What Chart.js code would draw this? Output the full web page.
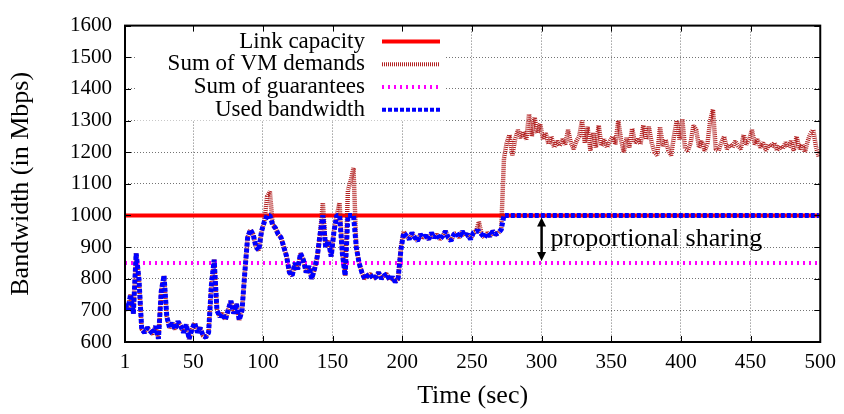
<!DOCTYPE html>
<html>
<head>
<meta charset="utf-8">
<script src="https://cdn.jsdelivr.net/npm/chart.js@4.4.1/dist/chart.umd.min.js"></script>
<style>
  html, body { margin: 0; padding: 0; background: #fff; }
  #wrap { width: 844px; height: 414px; position: relative; }
</style>
</head>
<body>
<div id="wrap"><canvas id="bandwidth_chart"></canvas></div>
<script>
/*
 * Values, one sample every 2 seconds (t = 1, 3, ... 499)
 */

const xTicks = [1, 50, 100, 150, 200, 250, 300, 350, 400, 450, 500]
const seriesNames = ['Link capacity', 'Sum of VM demands', 'Sum of guarantees', 'Used bandwidth']
const edgeTimes = [1, 500]
const linkCapacity = [1000, 1000]
const guarantees = [850, 850]

const vmDemands = [
    720, 700, 750, 690, 880, 800, 640, 630, 645, 635,
    625, 650, 610, 760, 810, 680, 645, 660, 640, 665,
    650, 630, 655, 610, 640, 660, 630, 645, 620, 615,
    630, 780, 860, 700, 680, 690, 670, 700, 730, 690,
    720, 670, 700, 820, 930, 955, 940, 900, 890, 950,
    980, 1060, 1075, 970, 960, 940, 930, 900, 870, 820,
    810, 850, 830, 880, 860, 820, 840, 800, 830, 870,
    940, 1040, 900, 920, 870, 950, 1000, 1040, 880, 810,
    1080, 1110, 1150, 900, 850, 820, 800, 810, 815, 800,
    805, 820, 800, 810, 815, 795, 805, 790, 800, 900,
    950, 935, 925, 945, 930, 920, 940, 930, 935, 925,
    945, 930, 940, 925, 935, 950, 930, 920, 940, 945,
    930, 950, 935, 940, 925, 945, 950, 980, 940, 930,
    945, 935, 950, 940, 945, 955, 1180, 1230, 1255, 1190,
    1240, 1270, 1245, 1265, 1240, 1320, 1250, 1310, 1260, 1290,
    1240, 1260, 1225, 1250, 1215, 1235, 1220, 1240, 1225, 1270,
    1230, 1210, 1235, 1250, 1300, 1230, 1280, 1205, 1260, 1215,
    1285, 1220, 1240, 1215, 1235, 1250, 1225, 1300, 1240, 1200,
    1245, 1215, 1275, 1230, 1240, 1225, 1285, 1240, 1280, 1230,
    1200, 1190, 1280, 1220, 1240, 1205, 1190, 1250, 1300, 1240,
    1305, 1210, 1205, 1230, 1285, 1270, 1215, 1235, 1205, 1225,
    1300, 1335, 1210, 1205, 1230, 1250, 1210, 1225, 1215, 1235,
    1220, 1210, 1255, 1225, 1240, 1270, 1225, 1240, 1215, 1230,
    1205, 1225, 1215, 1230, 1205, 1220, 1210, 1230, 1215, 1235,
    1205, 1250, 1210, 1225, 1200, 1235, 1260, 1270, 1215, 1185
]

const usedBandwidth = [
    720, 700, 750, 690, 880, 800, 640, 630, 645, 635,
    625, 650, 610, 760, 810, 680, 645, 660, 640, 665,
    650, 630, 655, 610, 640, 660, 630, 645, 620, 615,
    630, 780, 860, 700, 680, 690, 670, 700, 730, 690,
    720, 670, 700, 820, 930, 955, 940, 900, 890, 950,
    980, 1000, 1000, 970, 960, 940, 930, 900, 870, 820,
    810, 850, 830, 880, 860, 820, 840, 800, 830, 870,
    940, 1000, 900, 920, 870, 950, 1000, 1000, 880, 810,
    1000, 1000, 1000, 900, 850, 820, 800, 810, 815, 800,
    805, 820, 800, 810, 815, 795, 805, 790, 800, 890,
    945, 935, 925, 945, 930, 920, 940, 930, 935, 925,
    945, 930, 940, 925, 935, 950, 930, 920, 940, 945,
    930, 950, 935, 940, 925, 945, 950, 950, 940, 930,
    945, 935, 950, 940, 945, 955, 1000, 1000, 1000, 1000,
    1000, 1000, 1000, 1000, 1000, 1000, 1000, 1000, 1000, 1000,
    1000, 1000, 1000, 1000, 1000, 1000, 1000, 1000, 1000, 1000,
    1000, 1000, 1000, 1000, 1000, 1000, 1000, 1000, 1000, 1000,
    1000, 1000, 1000, 1000, 1000, 1000, 1000, 1000, 1000, 1000,
    1000, 1000, 1000, 1000, 1000, 1000, 1000, 1000, 1000, 1000,
    1000, 1000, 1000, 1000, 1000, 1000, 1000, 1000, 1000, 1000,
    1000, 1000, 1000, 1000, 1000, 1000, 1000, 1000, 1000, 1000,
    1000, 1000, 1000, 1000, 1000, 1000, 1000, 1000, 1000, 1000,
    1000, 1000, 1000, 1000, 1000, 1000, 1000, 1000, 1000, 1000,
    1000, 1000, 1000, 1000, 1000, 1000, 1000, 1000, 1000, 1000,
    1000, 1000, 1000, 1000, 1000, 1000, 1000, 1000, 1000, 1000
]

// sampling grid of the two measured series
const times = vmDemands.map((v, i) => 1 + 2 * i)

const serif = '"Liberation Serif", "Times New Roman", serif'

function toPoints(xs, ys) {
    return ys.map((v, i) => ({ x: xs[i], y: v }))
}

/*
 * gnuplot look: opaque key, inward ticks, frame and the arrow note
 */

const gnuplotDecor = {
    id: 'gnuplotDecor',
    afterDraw(chart) {
        const ctx = chart.ctx
        const area = chart.chartArea
        const xs = chart.scales.x
        const ys = chart.scales.y
        ctx.save()

        // key box
        ctx.fillStyle = '#fff'
        ctx.fillRect(area.left + 12, area.top + 1, 446 - area.left - 12, 94)
        ctx.font = '23px ' + serif
        ctx.textAlign = 'right'
        ctx.textBaseline = 'middle'
        chart.data.datasets.forEach((ds, i) => {
            const rowY = area.top + 16 + i * 22.7
            ctx.fillStyle = '#000'
            ctx.fillText(ds.label, 365, rowY)
            ctx.save()
            ctx.strokeStyle = ds.borderColor
            ctx.lineWidth = 4
            ctx.setLineDash(ds.borderDash || [])
            ctx.beginPath()
            ctx.moveTo(382, rowY)
            ctx.lineTo(440, rowY)
            ctx.stroke()
            ctx.restore()
        })

        // inward tick marks on all four sides
        ctx.strokeStyle = '#000'
        ctx.lineWidth = 1
        ctx.beginPath()
        xTicks.forEach(v => {
            const px = Math.round(xs.getPixelForValue(v)) + 0.5
            ctx.moveTo(px, area.bottom); ctx.lineTo(px, area.bottom - 6)
            ctx.moveTo(px, area.top); ctx.lineTo(px, area.top + 6)
        })
        ys.ticks.forEach(t => {
            const py = Math.round(ys.getPixelForValue(t.value)) + 0.5
            ctx.moveTo(area.left, py); ctx.lineTo(area.left + 6, py)
            ctx.moveTo(area.right, py); ctx.lineTo(area.right - 6, py)
        })
        ctx.stroke()

        // frame
        ctx.lineWidth = 2
        ctx.strokeRect(area.left, area.top, area.right - area.left, area.bottom - area.top)

        // double arrow between capacity and guarantees
        const ax = xs.getPixelForValue(300)
        const top = ys.getPixelForValue(linkCapacity[0]) + 2
        const bottom = ys.getPixelForValue(guarantees[0]) - 2
        ctx.lineWidth = 2.5
        ctx.beginPath()
        ctx.moveTo(ax, top + 6)
        ctx.lineTo(ax, bottom - 6)
        ctx.stroke()
        ctx.fillStyle = '#000'
        ctx.beginPath()
        ctx.moveTo(ax, top); ctx.lineTo(ax - 4.5, top + 9); ctx.lineTo(ax + 4.5, top + 9)
        ctx.closePath()
        ctx.fill()
        ctx.beginPath()
        ctx.moveTo(ax, bottom); ctx.lineTo(ax - 4.5, bottom - 9); ctx.lineTo(ax + 4.5, bottom - 9)
        ctx.closePath()
        ctx.fill()

        ctx.font = '26px ' + serif
        ctx.textAlign = 'left'
        ctx.textBaseline = 'middle'
        ctx.fillText('proportional sharing', ax + 9, (top + bottom) / 2)

        ctx.restore()
    }
}

Chart.defaults.color = '#000'
Chart.defaults.font.family = serif

let bandwidthConfig = {
    type: 'line',
    data: {
        datasets: [
            {
                label: seriesNames[0],
                data: toPoints(edgeTimes, linkCapacity),
                borderColor: '#ff0000',
                borderWidth: 4,
                order: 4
            },
            {
                label: seriesNames[1],
                data: toPoints(times, vmDemands),
                borderColor: '#b22222',
                borderWidth: 4.5,
                borderDash: [1, 1],
                borderJoinStyle: 'bevel',
                order: 3
            },
            {
                label: seriesNames[2],
                data: toPoints(edgeTimes, guarantees),
                borderColor: '#ff00ff',
                borderWidth: 4,
                borderDash: [2, 4],
                order: 2
            },
            {
                label: seriesNames[3],
                data: toPoints(times, usedBandwidth),
                borderColor: '#0000ff',
                borderWidth: 5,
                borderDash: [4, 2],
                borderJoinStyle: 'bevel',
                order: 1
            }
        ]
    },
    options: {
        responsive: true,
        maintainAspectRatio: false,
        animation: false,
        layout: { padding: { left: 0, right: 22, top: 12, bottom: 0 } },
        elements: { point: { radius: 0 }, line: { tension: 0 } },
        plugins: { legend: { display: false }, tooltip: { enabled: false } },
        scales: {
            x: {
                type: 'linear',
                min: 1,
                max: 500,
                afterBuildTicks: scale => { scale.ticks = xTicks.map(v => ({ value: v })) },
                afterFit: scale => { scale.height = 72 },
                ticks: { font: { size: 21 }, padding: 8, maxRotation: 0, autoSkip: false, callback: v => String(v) },
                grid: { color: 'rgba(0,0,0,0.55)', lineWidth: 1, drawTicks: false },
                border: { display: false, dash: [1, 2] },
                title: { display: true, text: 'Time (sec)', font: { size: 26 }, padding: { top: 0, bottom: 2 } }
            },
            y: {
                min: 600,
                max: 1600,
                afterFit: scale => { scale.width = 125 },
                ticks: { stepSize: 100, font: { size: 21 }, padding: 13, callback: v => String(v) },
                grid: { color: 'rgba(0,0,0,0.55)', lineWidth: 1, drawTicks: false },
                border: { display: false, dash: [1, 2] },
                title: { display: true, text: 'Bandwidth (in Mbps)', font: { size: 26 }, padding: { top: 6, bottom: 0 } }
            }
        }
    },
    plugins: [gnuplotDecor]
}

var bandwidthCanvas = document.getElementById('bandwidth_chart')

var bandwidthChart = new Chart(bandwidthCanvas, bandwidthConfig)
</script>
</body>
</html>
